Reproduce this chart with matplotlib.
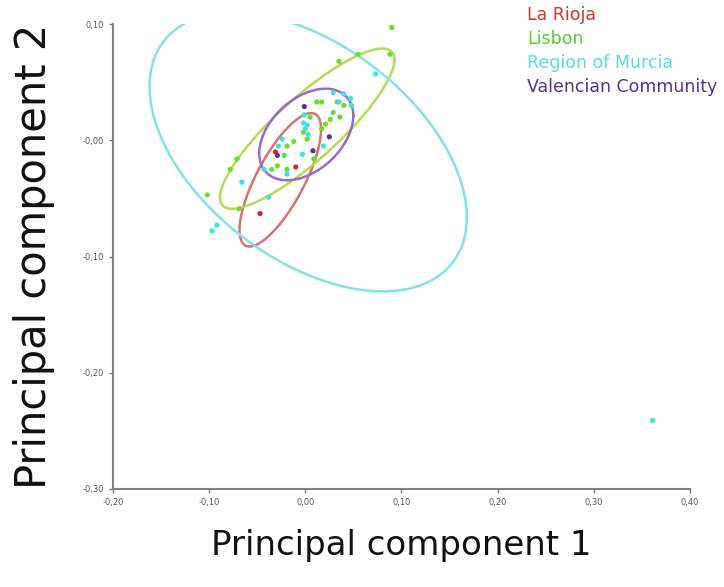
import numpy as np
import matplotlib
matplotlib.use("Agg")
import matplotlib.pyplot as plt

# groups and colours
groups = ["La Rioja", "Lisbon", "Region of Murcia", "Valencian Community"]
point_colors = ["#d42a2a", "#6bdc2a", "#3ee2e2", "#6a2a9a"]
ellipse_colors = ["#d47272", "#b4dc55", "#86e2e2", "#9a6ac4"]
legend_colors = ["#cc3333", "#55cc33", "#55dddd", "#553388"]

# PCA scores
rioja_x = [-0.047, -0.010, -0.031]
rioja_y = [-0.063, -0.023, -0.010]

lisbon_x = [0.090, 0.088, 0.055, 0.035, 0.012, 0.017, 0.033, 0.040, 0.029, 0.026,
            0.021, 0.017, 0.036, -0.002, 0.002, -0.019, -0.022, -0.029, -0.035,
            -0.019, 0.009, -0.071, -0.078, -0.102, -0.069, 0.005, -0.012]
lisbon_y = [0.097, 0.074, 0.074, 0.068, 0.033, 0.033, 0.033, 0.030, 0.024, 0.018,
            0.014, 0.010, 0.020, 0.007, 0.001, -0.005, -0.013, -0.022, -0.025,
            -0.025, -0.016, -0.016, -0.025, -0.047, -0.059, 0.020, -0.001]

murcia_x = [0.073, 0.029, 0.040, 0.047, 0.048, 0.035, -0.002, 0.002, 0.000, 0.019,
            -0.003, -0.024, -0.028, -0.043, -0.019, -0.066, -0.038, -0.097, -0.092,
            0.361, -0.001, 0.003]
murcia_y = [0.057, 0.041, 0.040, 0.036, 0.030, 0.033, 0.015, 0.013, 0.010, -0.005,
            -0.012, 0.001, -0.005, -0.025, -0.029, -0.036, -0.049, -0.078, -0.073,
            -0.241, 0.022, 0.005]

valencia_x = [-0.001, 0.025, 0.008, -0.029]
valencia_y = [0.029, 0.003, -0.009, -0.013]

xs = [rioja_x, lisbon_x, murcia_x, valencia_x]
ys = [rioja_y, lisbon_y, murcia_y, valencia_y]

# confidence ellipses: centre, spread and correlation
ell_cx = [-0.026, 0.002, 0.003, 0.001]
ell_cy = [-0.034, 0.010, -0.010, 0.005]
ell_sx = [0.0424, 0.0907, 0.165, 0.0489]
ell_sy = [0.0574, 0.0689, 0.120, 0.0394]
ell_rho = [0.755, 0.861, -0.47, 0.41]

xticks = [-0.2, -0.1, 0.0, 0.1, 0.2, 0.3, 0.4]
xtick_labels = ["-0,20", "-0,10", "0,00", "0,10", "0,20", "0,30", "0,40"]
yticks = [0.1, 0.0, -0.1, -0.2, -0.3]
ytick_labels = ["0,10", "-0,00", "-0,10", "-0,20", "-0,30"]

fig = plt.figure(figsize=(7.24, 5.87), dpi=100)
ax = fig.add_axes([0.156, 0.167, 0.797, 0.792])

t = np.linspace(0, 2 * np.pi, 300)
for i in range(len(groups)):
    ex = ell_cx[i] + ell_sx[i] * np.cos(t)
    ey = ell_cy[i] + ell_sy[i] * (ell_rho[i] * np.cos(t) + np.sqrt(1 - ell_rho[i] ** 2) * np.sin(t))
    ax.plot(ex, ey, color=ellipse_colors[i], lw=1.8, zorder=2)

for i in range(len(groups)):
    ax.scatter(xs[i], ys[i], s=14, color=point_colors[i], edgecolors="none", zorder=3)

ax.set_xlim(-0.2, 0.4)
ax.set_ylim(-0.3, 0.1)
ax.set_xticks(xticks)
ax.set_xticklabels(xtick_labels)
ax.set_yticks(yticks)
ax.set_yticklabels(ytick_labels)
ax.tick_params(labelsize=6, colors="#777777", labelcolor="#555555", length=3, width=1)
for s in ["top", "right"]:
    ax.spines[s].set_visible(False)
for s in ["left", "bottom"]:
    ax.spines[s].set_color("#808080")
    ax.spines[s].set_linewidth(1.5)

ax.set_xlabel("Principal component 1", fontsize=24.5, labelpad=16, color="#111111")
ax.set_ylabel("Principal component 2", fontsize=30, labelpad=20, color="#111111")

# text-only legend
for i, g in enumerate(groups):
    fig.text(0.728, 0.975 - i * 0.041, g, color=legend_colors[i], fontsize=12.5,
             va="center", ha="left")

fig.savefig("out.png", dpi=100)
